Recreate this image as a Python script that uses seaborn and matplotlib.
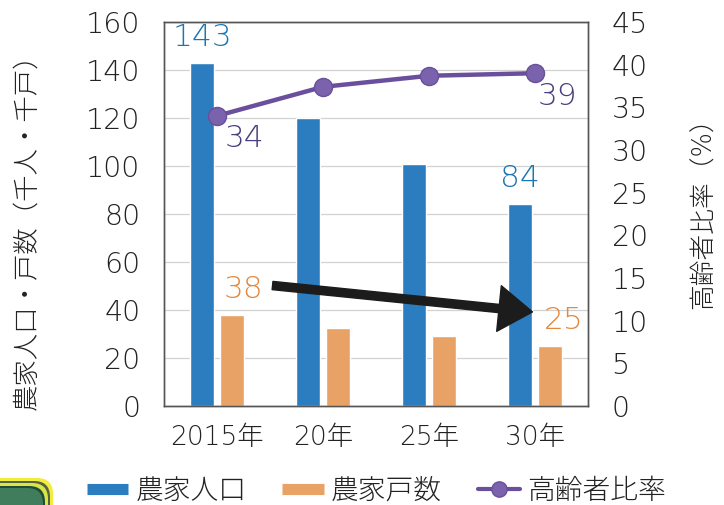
import numpy as np
import pandas as pd
import matplotlib
matplotlib.use("Agg")
import matplotlib.pyplot as plt
from matplotlib.lines import Line2D
from matplotlib.patches import FancyBboxPatch
from matplotlib.transforms import IdentityTransform
import seaborn as sns

# ---- data ----
years = ["2015年", "20年", "25年", "30年"]
population = [143, 120, 101, 84]        # 農家人口 (千人)
households = [38, 32.5, 29, 25]         # 農家戸数 (千戸)
elderly_rate = [34, 37.4, 38.7, 39]     # 高齢者比率 (%)
left_ticks = list(range(0, 161, 20))
right_ticks = list(range(0, 46, 5))
series_names = ["農家人口", "農家戸数", "高齢者比率"]

# ---- colours ----
BLUE = "#2c7dbf"
BLUE_TXT = "#1a76b4"
ORANGE = "#e9a266"
ORANGE_TXT = "#e2883f"
PURPLE = "#6a4f9c"
PURPLE_MK = "#7a62ad"
PURPLE_TXT = "#4a3d7e"
TXT = "#222222"

sns.set_theme(style="white")
plt.rcParams["font.family"] = ["DejaVu Sans", "Noto Sans CJK JP"]
plt.rcParams["font.weight"] = "light"

W, H = 724, 505
fig = plt.figure(figsize=(W / 100, H / 100), dpi=100)
fig.patch.set_facecolor("white")
ax = fig.add_axes([164 / W, 1 - 406 / H, 424 / W, 384 / H])

bar_df = pd.DataFrame({
    "year": years * 2,
    "value": population + households,
    "series": [series_names[0]] * len(years) + [series_names[1]] * len(years),
})
sns.barplot(data=bar_df, x="year", y="value", hue="series",
            palette=[BLUE, ORANGE], saturation=1, width=0.56, gap=0.2,
            ax=ax, legend=False, zorder=2)
ax.set_xlim(-0.5, len(years) - 0.5)
ax.set_ylim(0, 160)
ax.set_yticks(left_ticks)
ax.set_xlabel("")
ax.set_ylabel("")
ax.set_axisbelow(True)
ax.yaxis.grid(True, color="#d2d2d2", lw=0.9)
ax.tick_params(axis="y", length=0, pad=17, labelsize=20.5, labelcolor=TXT)
ax.tick_params(axis="x", length=0, pad=14, labelsize=19, labelcolor=TXT)

# elderly-rate line on the right axis
ax2 = ax.twinx()
xpos = np.arange(len(years))
sns.lineplot(x=xpos, y=elderly_rate, ax=ax2, color=PURPLE, lw=3.2,
             marker="o", markersize=13, markerfacecolor=PURPLE_MK,
             markeredgecolor=PURPLE, markeredgewidth=1, zorder=4)
ax2.set_ylim(0, 45)
ax2.set_yticks(right_ticks)
ax2.set_xlim(-0.5, len(years) - 0.5)
ax2.set_ylabel("")
ax2.tick_params(axis="y", length=0, pad=17, labelsize=20.5, labelcolor=TXT)

for a in (ax, ax2):
    for s in a.spines.values():
        s.set_color("#555555")
        s.set_linewidth(1.0)

# value labels
pop_bars = ax.containers[0]
hh_bars = ax.containers[1]
for idx in (0, len(years) - 1):
    b = pop_bars[idx]
    ax.annotate(f"{population[idx]:g}", (b.get_x() + b.get_width() / 2, population[idx]),
                xytext=(0, 8), textcoords="offset points", ha="center", va="bottom",
                fontsize=22.5, color=BLUE_TXT, zorder=5)
for idx, dx in ((0, 8), (len(years) - 1, 10)):
    b = hh_bars[idx]
    ax2.annotate(f"{households[idx]:g}", (b.get_x() + b.get_width() / 2, households[idx]),
                 xycoords=ax.transData, xytext=(dx, 8), textcoords="offset points",
                 ha="center", va="bottom", fontsize=22.5, color=ORANGE_TXT, zorder=6)
for idx, (dx, dy) in ((0, (20, -16)), (len(years) - 1, (16, -17))):
    ax2.annotate(f"{elderly_rate[idx]:g}", (xpos[idx], elderly_rate[idx]),
                 xytext=(dx, dy), textcoords="offset points", ha="center", va="center",
                 fontsize=22.5, color=PURPLE_TXT, zorder=6)

# trend arrow for household count
ax2.annotate("", xy=(2.976, 39.2), xycoords=ax.transData,
             xytext=(0.524, 50.2), textcoords=ax.transData,
             arrowprops=dict(arrowstyle="simple,head_length=1.1,head_width=1.5,tail_width=0.27",
                             mutation_scale=22, color="#1c1c1c", shrinkA=0, shrinkB=0),
             zorder=7)

# axis titles
fig.text(27 / W, 1 - 225 / H, "農家人口・戸数（千人・千戸）", rotation=90,
         ha="center", va="center", fontsize=19, color=TXT)
fig.text(703 / W, 1 - 207 / H, "高齢者比率（%）", rotation=90,
         ha="center", va="center", fontsize=18.5, color=TXT)

# legend
handles = [
    Line2D([], [], color=BLUE, lw=8, solid_capstyle="butt"),
    Line2D([], [], color=ORANGE, lw=8, solid_capstyle="butt"),
    Line2D([], [], color=PURPLE, lw=3, marker="o", markersize=11,
           markerfacecolor=PURPLE_MK, markeredgecolor=PURPLE),
]
fig.legend(handles, series_names, loc="center", bbox_to_anchor=(376 / W, 1 - 491 / H),
           ncol=3, frameon=False, fontsize=20, handlelength=1.5, handletextpad=0.25,
           columnspacing=1.3, labelcolor=TXT)

# corner badge
for (right, top, col) in ((53, 478, "#f2ec3c"), (50, 481, "#55613f"),
                          (48, 483, "#d9e54a"), (45, 486, "#224d33"), (43, 488, "#3f7d5c")):
    fig.add_artist(FancyBboxPatch((-60, -60), right + 60, (H - top) + 60,
                                  boxstyle="round,pad=0,rounding_size=16",
                                  transform=IdentityTransform(), facecolor=col,
                                  edgecolor="none"))

fig.savefig("out.png", dpi=100, facecolor="white")
